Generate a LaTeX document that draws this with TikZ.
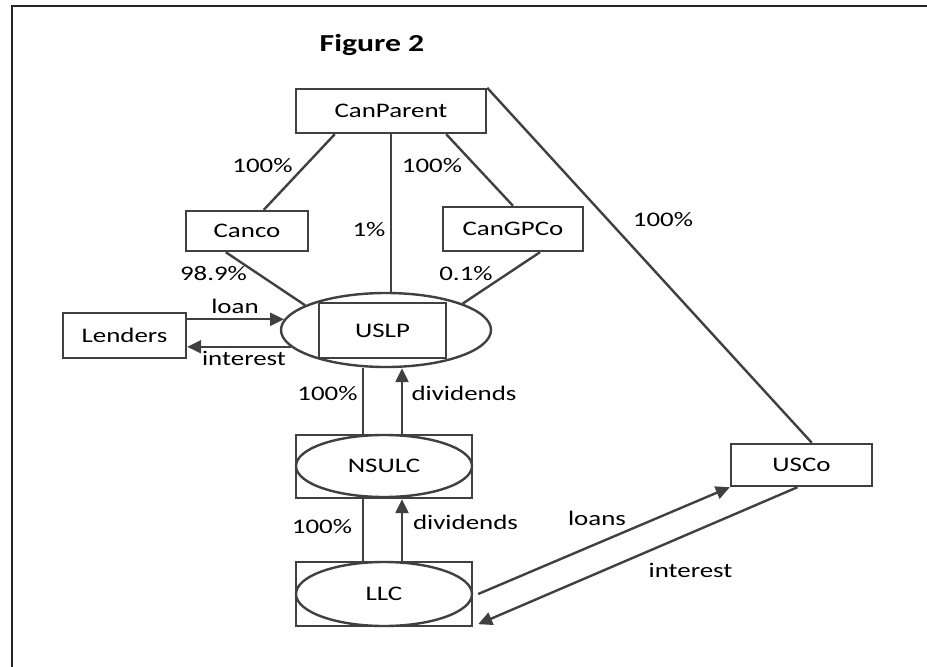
\documentclass[tikz,border=0pt]{standalone}
\usepackage{fontspec}
\setmainfont{Carlito}[FakeStretch=1.3]
\usetikzlibrary{positioning}
\usetikzlibrary{calc}
\usetikzlibrary{arrows.meta}
\usetikzlibrary{shapes.geometric}

\definecolor{linegray}{HTML}{404040}
\newcommand\lblfont{\fontsize{20.7}{24}\selectfont}

\begin{document}
\begin{tikzpicture}[x=1pt,y=-1pt,
    box/.style={draw=linegray, line width=2.4pt, inner sep=0pt, font=\lblfont},
    oval/.style={ellipse, draw=linegray, line width=2.4pt, inner sep=0pt, font=\lblfont},
    lbl/.style={inner sep=0pt, font=\lblfont},
    conn/.style={draw=linegray, line width=2.4pt},
    arr/.style={conn, -{Triangle[length=14pt,width=13pt]}}]
        \useasboundingbox (0,0) rectangle (927,667);
        % frame
        \draw[black!85, line width=1.5pt] (12,667) -- (12,6) -- (927,6);

        \node[lbl] (title) at (372,45) {\bfseries\fontsize{24.4}{28}\selectfont Figure 2};

        \node[box, minimum width=190pt, minimum height=44pt] (cp) at (391,111) {CanParent};
        \node[box, minimum width=122pt, minimum height=40pt] (canco) at (247,231) {Canco};
        \node[box, minimum width=140pt, minimum height=44pt] (gp) at (513,229) {CanGPCo};
        \node[oval, minimum width=210pt, minimum height=74pt] (uslpe) at (386,330) {};
        \node[box, minimum width=127pt, minimum height=55pt] (uslp) at (382.5,330.5) {USLP};
        \node[box, minimum width=123pt, minimum height=45pt] (len) at (124.5,335.5) {Lenders};
        \node[box, minimum width=176pt, minimum height=63pt] (nsr) at (384,466.5) {};
        \node[oval, minimum width=176pt, minimum height=62pt] (ns) at (384,466) {NSULC};
        \node[box, minimum width=176pt, minimum height=64pt] (llr) at (384,594) {};
        \node[oval, minimum width=176pt, minimum height=64pt] (llc) at (384,594) {LLC};
        \node[box, minimum width=141pt, minimum height=42pt] (usco) at (801.5,465) {USCo};

        % ownership
        \draw[conn] ([xshift=40pt]cp.south west) -- ([xshift=79pt]canco.north west);
        \draw[conn] (cp.south) -- (cp.south |- uslpe.north);
        \draw[conn] ([xshift=-41pt]cp.south east) -- (gp.north);
        \draw[conn] (cp.north east) -- ([xshift=82pt]usco.north west);
        \draw[conn] ([xshift=41pt]canco.south west) -- (uslpe.163.5);
        \draw[conn] ([xshift=27pt]gp.south) -- (uslpe.19);
        \draw[conn] ([xshift=-21pt]nsr.north) -- ([xshift=-21pt]nsr.north |- uslpe.south);
        \draw[conn] ([xshift=-21pt]llr.north) -- ([xshift=-21pt]nsr.south);

        % flows
        \draw[arr] (len.east |- uslpe.174) -- (uslpe.174);
        \draw[arr] (uslpe.190) -- (len.east |- uslpe.190);
        \draw[arr] ([xshift=18pt]nsr.north) -- ([xshift=18pt]nsr.north |- uslpe.south);
        \draw[arr] ([xshift=18pt]llr.north) -- ([xshift=18pt]nsr.south);
        \draw[arr] ([xshift=5pt]llc.east) -- (usco.south west);
        \draw[arr] ([xshift=-4pt]usco.south) -- ([xshift=5pt,yshift=3pt]llr.south east);

        \node[lbl] (p1) at (262.5,166) {100\%};
        \node[lbl] (p2) at (432,166) {100\%};
        \node[lbl] (p3) at (369,230) {1\%};
        \node[lbl] (p4) at (663,220) {100\%};
        \node[lbl] (p5) at (213.5,274) {98.9\%};
        \node[lbl] (p6) at (466,274) {0.1\%};
        \node[lbl] (loan) at (235,306.5) {loan};
        \node[lbl] (int1) at (244,358.5) {interest};
        \node[lbl] (p7) at (327.5,394) {100\%};
        \node[lbl] (div1) at (464,393.5) {dividends};
        \node[lbl] (p8) at (322,527) {100\%};
        \node[lbl] (div2) at (465.5,522.5) {dividends};
        \node[lbl] (loans) at (597,518) {loans};
        \node[lbl] (int2) at (690.5,570.5) {interest};
\end{tikzpicture}
\end{document}
